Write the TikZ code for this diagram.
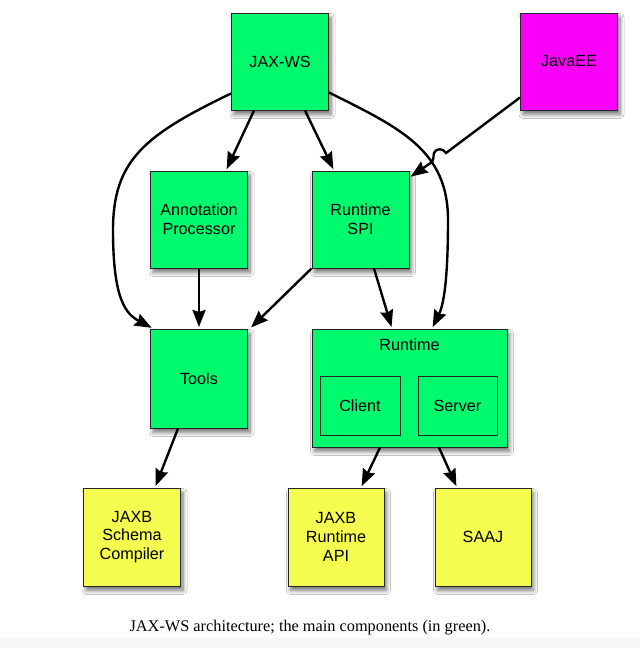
\documentclass[tikz,border=0pt]{standalone}
\usepackage{fontspec}
\setmainfont{Liberation Serif}
\newfontfamily\boxfont{Liberation Sans}
\usetikzlibrary{arrows.meta,shadows.blur,calc}
\definecolor{jgreen}{RGB}{0,250,110}
\definecolor{jmag}{RGB}{250,0,250}
\definecolor{jyel}{RGB}{245,252,80}
\begin{document}
\begin{tikzpicture}[x=1pt,y=-1pt,
  box/.style={draw=black!85, line width=1pt, minimum width=97pt, minimum height=97pt,
    inner sep=0pt, align=center, font=\boxfont\fontsize{16.2}{18.7}\selectfont,
    blur shadow={shadow xshift=2.5pt,shadow yshift=-4.5pt,shadow blur steps=8,
      shadow blur radius=4pt,shadow opacity=55}},
  gbox/.style={box, fill=jgreen},
  ybox/.style={box, fill=jyel},
  mbox/.style={box, fill=jmag},
  inbox/.style={draw=black!85, line width=1pt, minimum width=79pt, minimum height=59pt,
    inner sep=0pt, font=\boxfont\fontsize{16.2}{18.7}\selectfont},
  conn/.style={line width=2.4pt, shorten >=1.5pt, -{Stealth[length=17pt,width=13pt,inset=2pt]}},
  lbl/.style={font=\boxfont\fontsize{16.2}{18.7}\selectfont, inner sep=0pt}
]
\useasboundingbox (0,0) rectangle (640,648);
\fill[white] (0,0) rectangle (640,648);
\fill[black!3] (0,638) rectangle (640,648);

\node[gbox] (jaxws) at (280,61.5) {JAX-WS};
\node[mbox] (javaee) at (569,61.5) {JavaEE};
\node[gbox] (anno) at (199,219.5) {Annotation\\Processor};
\node[gbox] (spi) at (360.5,219.5) {Runtime\\SPI};
\node[gbox, minimum height=99pt] (tools) at (199,378.5) {Tools};
\node[gbox, minimum width=195pt, minimum height=118pt] (runtime) at (409.5,388) {};
\node[lbl] (rlabel) at (409.5,345) {Runtime};
\node[inbox, minimum width=80pt] (client) at (360,405.5) {Client};
\node[inbox] (server) at (457.5,405.5) {Server};
\node[ybox, minimum height=98pt] (schema) at (132,537) {JAXB\\Schema\\Compiler};
\node[ybox, minimum width=96pt, minimum height=98pt] (jrapi) at (336,537) {JAXB\\Runtime\\API};
\node[ybox, minimum width=96pt, minimum height=98pt] (saaj) at (483,537) {SAAJ};

\node[font=\fontsize{16.3}{19}\selectfont, inner sep=0pt] (caption) at (310,628)
  {JAX-WS architecture; the main components (in green).};

% connectors
\draw[conn] ($(jaxws.south)+(-26,0)$) -- ($(anno.north)+(27,0)$);
\draw[conn] ($(jaxws.south)+(25,0)$) -- ($(spi.north)+(-26.5,0)$);
\draw[conn] ($(jaxws.south west)+(0,-17)$) .. controls (145,135) and (113,160) .. (113,230)
   .. controls (113,300) and (126,314) .. ($(tools.north west)+(3,0)$);
\draw[conn] ($(jaxws.south east)+(0,-18)$) .. controls (400,128) and (448,150) .. (448,220)
   .. controls (448,290) and (442,308) .. ($(runtime.north)+(22.5,0)$);
\draw[conn] ($(javaee.south west)+(0,-13)$) -- (446,153)
   .. controls (443,148) and (436,148) .. (434,153)
   .. controls (433,157) and (434,160) .. (432,162)
   -- ($(spi.north east)+(0,7)$);
\draw[conn] (anno.south) -- (tools.north);
\draw[conn] (spi.south west) -- ($(tools.north east)+(2,0)$);
\draw[conn] ($(spi.south)+(13.5,0)$) -- ($(runtime.north)+(-17.5,0)$);
\draw[conn] ($(tools.south)+(-21,0)$) -- ($(schema.north)+(23,0)$);
\draw[conn] ($(runtime.south)+(-29.5,0)$) -- ($(jrapi.north)+(25,0)$);
\draw[conn] ($(runtime.south)+(29.5,0)$) -- ($(saaj.north)+(-26,0)$);
\end{tikzpicture}
\end{document}
